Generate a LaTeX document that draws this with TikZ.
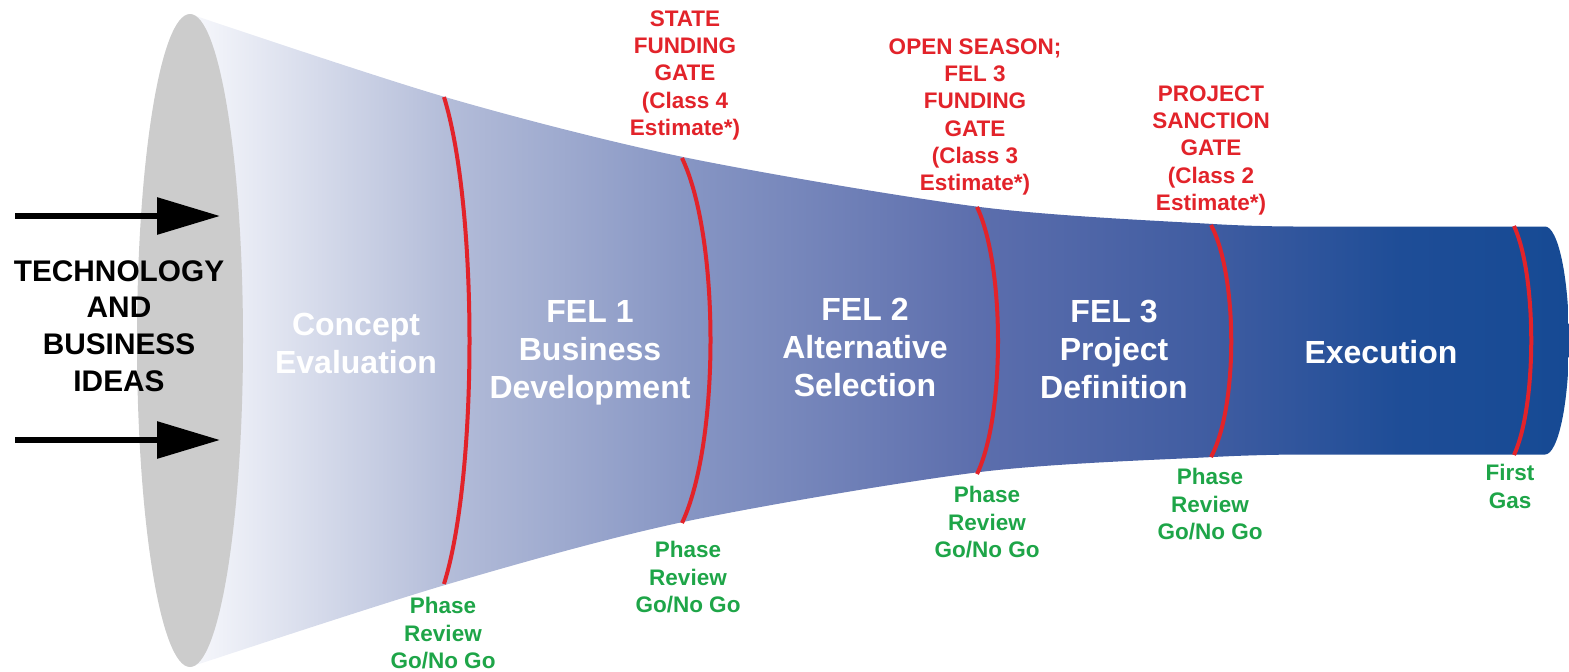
\documentclass[tikz,border=0pt]{standalone}
\usepackage{fontspec}
\setmainfont{Liberation Sans}
\usetikzlibrary{arrows.meta}

\definecolor{gateRed}{RGB}{226,35,42}
\definecolor{reviewGreen}{RGB}{30,165,72}
\definecolor{capGray}{RGB}{204,204,204}
\definecolor{fA}{HTML}{F7F8FC}
\definecolor{fB}{HTML}{B4BDD9}
\definecolor{fC}{HTML}{8796C4}
\definecolor{fD}{HTML}{5C6EAD}
\definecolor{fE}{HTML}{3F5CA1}
\definecolor{fF}{HTML}{1E4D97}
\definecolor{fG}{HTML}{164A94}
\pgfdeclarehorizontalshading{funnelShade}{100bp}{color(0bp)=(fA); color(25bp)=(fA); color(34.25bp)=(fB); color(42.9bp)=(fC); color(53.6bp)=(fD); color(62.1bp)=(fE); color(68.9bp)=(fF); color(75bp)=(fG); color(100bp)=(fG)}

\begin{document}
\begin{tikzpicture}[x=0.5pt,y=0.5pt,yscale=-1,xscale=1,
  gate/.style={draw=gateRed,line width=2pt},
  gatelabel/.style={text=gateRed,font=\fontsize{11.25}{13.65}\selectfont\bfseries,align=center,anchor=north,inner sep=0pt},
  reviewlabel/.style={text=reviewGreen,font=\fontsize{11.25}{13.65}\selectfont\bfseries,align=center,anchor=north,inner sep=0pt},
  phaselabel/.style={text=white,font=\fontsize{16}{19}\selectfont\bfseries,align=center,anchor=north,inner sep=0pt},
  inputlabel/.style={text=black,font=\fontsize{14.9}{18.3}\selectfont\bfseries,align=center,anchor=north,inner sep=0pt},
  inarrow/.style={line width=3pt,-{Triangle[length=31.5pt,width=18pt]}}]
\useasboundingbox (0,0) rectangle (1569,671);

%Shape: Funnel body
\shade[shading=funnelShade] plot[smooth] coordinates {(190,14) (445,97) (683,157) (980,207) (1213,224) (1300,226.5)}
  -- (1545,226.5) .. controls (1558,226.5) and (1569,277.5) .. (1569,340.5) .. controls (1569,403.5) and (1558,454.5) .. (1545,454.5)
  -- plot[smooth] coordinates {(1300,454.5) (1213,457) (980,472) (683,522) (445,585) (190,667)} -- cycle;
%Shape: Ellipse (mouth)
\fill[capGray] (190,340.5) ellipse [x radius=53, y radius=326.5];

%Curve Lines (gates)
\draw[gate] (444,97) .. controls (478,207) and (478,475) .. (444,584);
\draw[gate] (682,158) .. controls (720,237) and (720,443) .. (682,523);
\draw[gate] (977,207) .. controls (1005,266) and (1005,416) .. (977,474);
\draw[gate] (1211,225) .. controls (1238,276) and (1238,407) .. (1211,457);
\draw[gate] (1514,226) .. controls (1537,276) and (1537,405) .. (1514,455);

%Straight Lines (inputs)
\coordinate (inA) at (15,216);
\coordinate (inAend) at (220,216);
\coordinate (inB) at (15,440);
\coordinate (inBend) at (220,440);
\draw[inarrow] (inA) -- (inAend);
\draw[inarrow] (inB) -- (inBend);

% Text Node
\node[inputlabel] (ideas) at (119,260) {TECHNOLOGY\\AND\\BUSINESS\\IDEAS};
% Text Node
\node[phaselabel] (concept) at (356,313) {Concept\\Evaluation};
% Text Node
\node[phaselabel] (fel1) at (590,300) {FEL 1\\Business\\Development};
% Text Node
\node[phaselabel] (fel2) at (865,298) {FEL 2\\Alternative\\Selection};
% Text Node
\node[phaselabel] (fel3) at (1114,300) {FEL 3\\Project\\Definition};
% Text Node
\node[phaselabel] (exec) at (1381,340) {Execution};

% Text Node
\node[gatelabel] (stategate) at (685,10) {STATE\\FUNDING\\GATE\\(Class 4\\Estimate*)};
% Text Node
\node[gatelabel] (opengate) at (975,38) {OPEN SEASON;\\FEL 3\\FUNDING\\GATE\\(Class 3\\Estimate*)};
% Text Node
\node[gatelabel] (sanctiongate) at (1211,85) {PROJECT\\SANCTION\\GATE\\(Class 2\\Estimate*)};

% Text Node
\node[reviewlabel] (reviewA) at (443,597) {Phase\\Review\\Go/No Go};
% Text Node
\node[reviewlabel] (reviewB) at (688,541) {Phase\\Review\\Go/No Go};
% Text Node
\node[reviewlabel] (reviewC) at (987,486) {Phase\\Review\\Go/No Go};
% Text Node
\node[reviewlabel] (reviewD) at (1210,468) {Phase\\Review\\Go/No Go};
% Text Node
\node[reviewlabel] (firstgas) at (1510,464) {First\\Gas};

\end{tikzpicture}
\end{document}
